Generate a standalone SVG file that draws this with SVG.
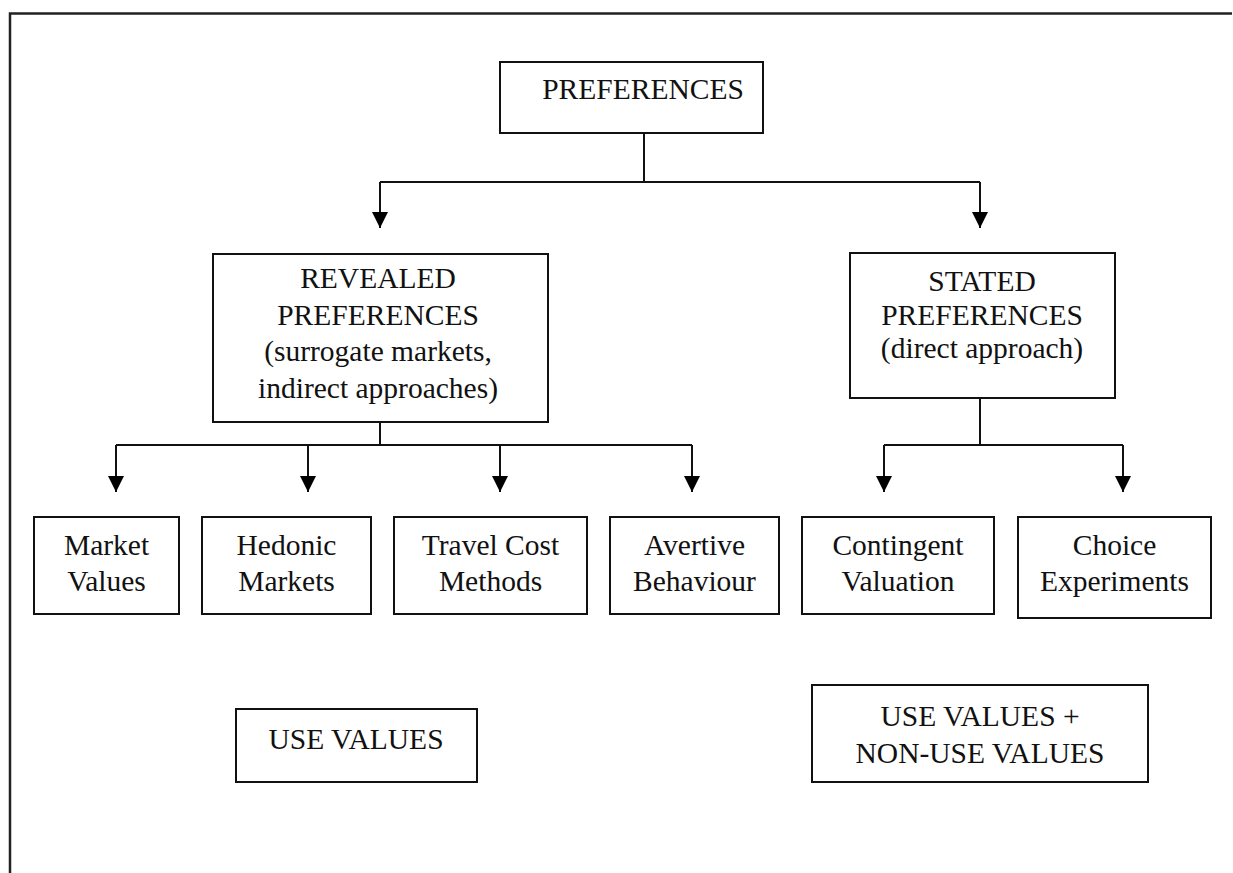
<svg xmlns="http://www.w3.org/2000/svg" width="1233" height="873" viewBox="0 0 1233 873">
<defs>
<style>
.box{fill:#fff;stroke:#111;stroke-width:2}
.t{font-family:"Liberation Serif","Times New Roman",serif;font-size:29.5px;fill:#111;text-anchor:middle}
.c{fill:none;stroke:#111;stroke-width:2}
.frame{fill:none;stroke:#222;stroke-width:2.5}
</style>
<marker id="ah" viewBox="0 0 16 16" refX="16" refY="8" markerWidth="16" markerHeight="16" markerUnits="userSpaceOnUse" orient="auto">
<path d="M0,0 L16,8 L0,16 Z" fill="#000"/>
</marker>
</defs>
<rect width="1233" height="873" fill="#fff"/>
<path class="frame" d="M10,873 L10,13.5 L1232,13.5"/>
<g id="connectors">
<path class="c" d="M644,133 L644,182"/>
<path class="c" d="M380,182 L980,182"/>
<path class="c" d="M380,182 L380,228" marker-end="url(#ah)"/>
<path class="c" d="M980,182 L980,228" marker-end="url(#ah)"/>
<path class="c" d="M380,422 L380,445"/>
<path class="c" d="M116,445 L692,445"/>
<path class="c" d="M116,445 L116,492" marker-end="url(#ah)"/>
<path class="c" d="M308,445 L308,492" marker-end="url(#ah)"/>
<path class="c" d="M500,445 L500,492" marker-end="url(#ah)"/>
<path class="c" d="M692,445 L692,492" marker-end="url(#ah)"/>
<path class="c" d="M980,398 L980,445"/>
<path class="c" d="M884,445 L1123,445"/>
<path class="c" d="M884,445 L884,492" marker-end="url(#ah)"/>
<path class="c" d="M1123,445 L1123,492" marker-end="url(#ah)"/>
</g>
<g id="preferences">
<rect class="box" x="500" y="62" width="263" height="71"/>
<text class="t" x="643" y="99">PREFERENCES</text>
</g>
<g id="revealed">
<rect class="box" x="213" y="254" width="335" height="168"/>
<text class="t" x="378" y="288">REVEALED</text>
<text class="t" x="378" y="324.5">PREFERENCES</text>
<text class="t" x="378" y="361">(surrogate markets,</text>
<text class="t" x="378" y="397.5">indirect approaches)</text>
</g>
<g id="stated">
<rect class="box" x="850" y="253" width="265" height="145"/>
<text class="t" x="982" y="291">STATED</text>
<text class="t" x="982" y="325">PREFERENCES</text>
<text class="t" x="982" y="358">(direct approach)</text>
</g>
<g id="market-values">
<rect class="box" x="34" y="517" width="145" height="97"/>
<text class="t" x="106.5" y="555">Market</text>
<text class="t" x="106.5" y="591">Values</text>
</g>
<g id="hedonic-markets">
<rect class="box" x="202" y="517" width="169" height="97"/>
<text class="t" x="286.5" y="555">Hedonic</text>
<text class="t" x="286.5" y="591">Markets</text>
</g>
<g id="travel-cost">
<rect class="box" x="394" y="517" width="193" height="97"/>
<text class="t" x="490.5" y="555">Travel Cost</text>
<text class="t" x="490.5" y="591">Methods</text>
</g>
<g id="avertive">
<rect class="box" x="610" y="517" width="169" height="97"/>
<text class="t" x="694.5" y="555">Avertive</text>
<text class="t" x="694.5" y="591">Behaviour</text>
</g>
<g id="contingent">
<rect class="box" x="802" y="517" width="192" height="97"/>
<text class="t" x="898" y="555">Contingent</text>
<text class="t" x="898" y="591">Valuation</text>
</g>
<g id="choice">
<rect class="box" x="1018" y="517" width="193" height="101"/>
<text class="t" x="1114.5" y="555">Choice</text>
<text class="t" x="1114.5" y="591">Experiments</text>
</g>
<g id="use-values">
<rect class="box" x="236" y="709" width="241" height="73"/>
<text class="t" x="356" y="749">USE VALUES</text>
</g>
<g id="use-nonuse-values">
<rect class="box" x="812" y="685" width="336" height="97"/>
<text class="t" x="980" y="726">USE VALUES +</text>
<text class="t" x="980" y="763">NON-USE VALUES</text>
</g>
</svg>
